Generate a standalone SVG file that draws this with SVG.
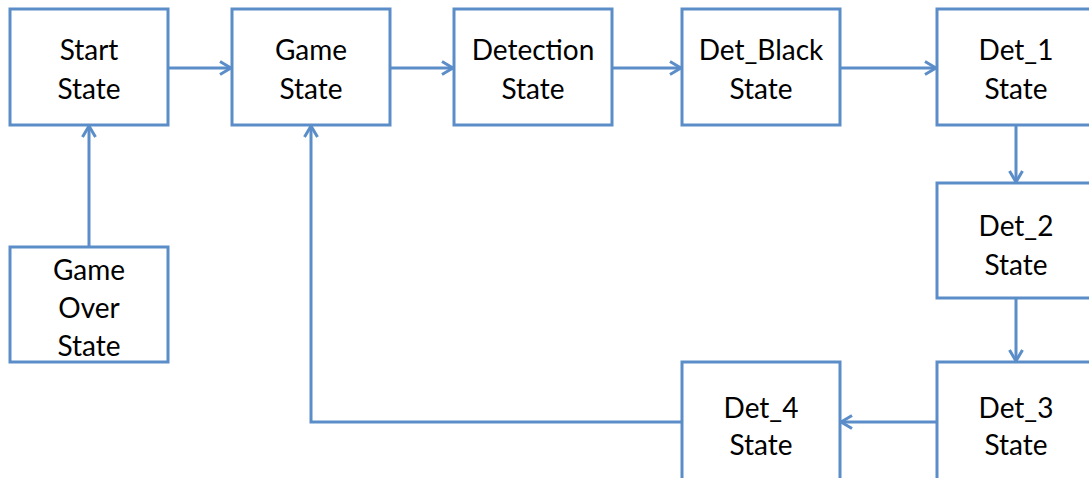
<svg xmlns="http://www.w3.org/2000/svg" width="1089" height="478" viewBox="0 0 1089 478">
<style>
.box{fill:#fff;stroke:#5b8dc8;stroke-width:3}
.t{font-family:Lato,"Open Sans","Liberation Sans",sans-serif;font-size:28px;fill:#000;text-anchor:middle}
.c{fill:none;stroke:#5b8dc8;stroke-width:3}
</style>
<defs>
<marker id="ah" viewBox="0 0 16 16" refX="14" refY="8" markerWidth="16" markerHeight="16" markerUnits="userSpaceOnUse" orient="auto">
<path d="M3,1.5 L14,8 L3,14.5" fill="none" stroke="#5b8dc8" stroke-width="3"/>
</marker>
</defs>
<g id="start"><rect class="box" x="10" y="9" width="158" height="116"/><text class="t" x="89" y="60">Start</text><text class="t" x="89" y="99">State</text></g>
<g id="game"><rect class="box" x="232" y="9" width="158" height="116"/><text class="t" x="311" y="60">Game</text><text class="t" x="311" y="99">State</text></g>
<g id="detection"><rect class="box" x="454" y="9" width="158" height="116"/><text class="t" x="533" y="60">Detection</text><text class="t" x="533" y="99">State</text></g>
<g id="detblack"><rect class="box" x="682" y="9" width="158" height="116"/><text class="t" x="761" y="60">Det_Black</text><text class="t" x="761" y="99">State</text></g>
<g id="det1"><rect class="box" x="937" y="9" width="158" height="116"/><text class="t" x="1016" y="60">Det_1</text><text class="t" x="1016" y="99">State</text></g>
<g id="det2"><rect class="box" x="937" y="183" width="158" height="115"/><text class="t" x="1016" y="236">Det_2</text><text class="t" x="1016" y="275">State</text></g>
<g id="det3"><rect class="box" x="937" y="362" width="158" height="130"/><text class="t" x="1016" y="418">Det_3</text><text class="t" x="1016" y="455">State</text></g>
<g id="det4"><rect class="box" x="682" y="362" width="158" height="130"/><text class="t" x="761" y="418">Det_4</text><text class="t" x="761" y="455">State</text></g>
<g id="gameover"><rect class="box" x="10" y="247" width="158" height="115"/><text class="t" x="89" y="280">Game</text><text class="t" x="89" y="318">Over</text><text class="t" x="89" y="356">State</text></g>
<g id="connectors">
<path class="c" d="M168,68 H231" marker-end="url(#ah)"/>
<path class="c" d="M390,68 H453" marker-end="url(#ah)"/>
<path class="c" d="M612,68 H681" marker-end="url(#ah)"/>
<path class="c" d="M840,68 H936" marker-end="url(#ah)"/>
<path class="c" d="M1016,125 V182" marker-end="url(#ah)"/>
<path class="c" d="M1016,298 V361" marker-end="url(#ah)"/>
<path class="c" d="M937,422 H841" marker-end="url(#ah)"/>
<path class="c" d="M682,422 H311 V126" marker-end="url(#ah)"/>
<path class="c" d="M89,247 V126" marker-end="url(#ah)"/>
</g>
</svg>
